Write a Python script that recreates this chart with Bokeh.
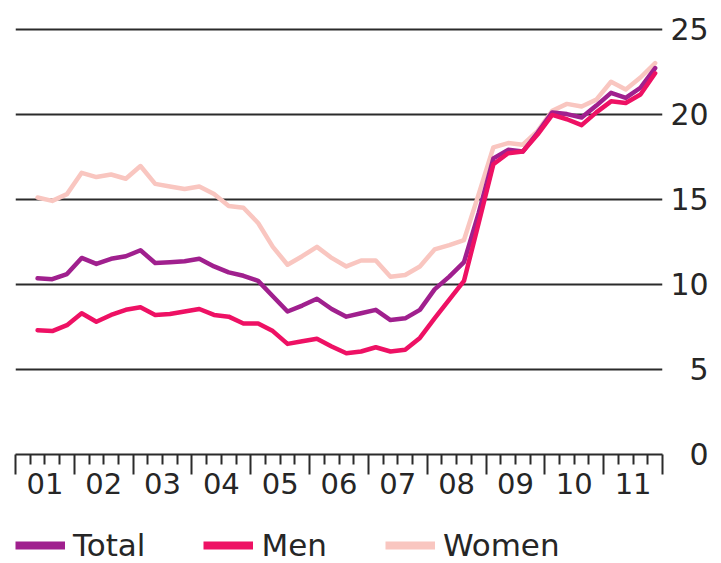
from bokeh.plotting import figure
from bokeh.layouts import column
from bokeh.models import (ColumnDataSource, FixedTicker, LinearAxis, Legend,
                          LegendItem, Range1d, Grid)
from bokeh.embed import file_html
from bokeh.resources import INLINE

# ---- data -------------------------------------------------------------
years = [2001, 2002, 2003, 2004, 2005, 2006, 2007, 2008, 2009, 2010, 2011]
year_labels = ["01", "02", "03", "04", "05", "06", "07", "08", "09", "10", "11"]
y_ticks = [0, 5, 10, 15, 20, 25]

# quarterly observations, 2001 Q2 .. 2011 Q4
quarters = [(y, q) for y in years for q in (1, 2, 3, 4)][1:]

total = [10.35, 10.3, 10.6,
         11.55, 11.2, 11.5, 11.65,
         12.0, 11.25, 11.3, 11.35,
         11.5, 11.05, 10.7, 10.5,
         10.2, 9.3, 8.4, 8.75,
         9.15, 8.55, 8.1, 8.3,
         8.5, 7.9, 8.0, 8.5,
         9.7, 10.45, 11.3, 14.2,
         17.4, 17.9, 17.8, 18.9,
         20.1, 20.0, 19.8, 20.5,
         21.25, 20.95, 21.55, 22.7]
men = [7.3, 7.25, 7.6,
       8.3, 7.8, 8.2, 8.5,
       8.65, 8.2, 8.25, 8.4,
       8.55, 8.2, 8.1, 7.7,
       7.7, 7.25, 6.5, 6.65,
       6.8, 6.35, 5.95, 6.05,
       6.3, 6.05, 6.15, 6.85,
       8.0, 9.1, 10.2, 13.6,
       17.05, 17.7, 17.8, 18.8,
       19.95, 19.7, 19.35, 20.1,
       20.75, 20.65, 21.15, 22.4]
women = [15.1, 14.9, 15.3,
         16.55, 16.3, 16.45, 16.2,
         16.95, 15.9, 15.75, 15.6,
         15.75, 15.3, 14.6, 14.5,
         13.6, 12.2, 11.15, 11.65,
         12.2, 11.55, 11.05, 11.4,
         11.4, 10.45, 10.55, 11.05,
         12.05, 12.3, 12.6, 15.3,
         18.05, 18.3, 18.2, 19.0,
         20.2, 20.6, 20.45, 20.85,
         21.9, 21.45, 22.15, 23.0]

series_names = ["Total", "Men", "Women"]
colors = {"Total": "#A0208E", "Men": "#EE1164", "Women": "#F9C6C0"}

# ---- derived positions (through the data scale) -----------------------
xq = [y + (q - 0.5) / 4 for (y, q) in quarters]
data = {"Total": total, "Men": men, "Women": women}
source = ColumnDataSource(dict(x=xq, **data))

FONT = "DejaVu Sans"
TXT = "#262626"

p = figure(width=717, height=518,
           min_border_left=15, min_border_right=55,
           min_border_top=20, min_border_bottom=64,
           x_range=Range1d(years[0], years[-1] + 1),
           y_range=Range1d(0, 25.5),
           x_axis_location=None, y_axis_location=None,
           output_backend="svg", toolbar_location=None)
p.grid.visible = False
p.outline_line_color = None

p.add_layout(Grid(dimension=1, ticker=FixedTicker(ticks=y_ticks[1:]),
                  grid_line_color="#2b2b2b", grid_line_width=2))

# lines
for name in ["Women", "Total", "Men"]:
    p.line("x", name, source=source, line_color=colors[name],
           line_width=4.5, line_join="round", line_cap="round")

# x axis with year boundary ticks and quarter minor ticks
boundaries = years + [years[-1] + 1]
minor = [y + k / 4 for y in years for k in (1, 2, 3)]
ax_ticks = LinearAxis(ticker=FixedTicker(ticks=boundaries, minor_ticks=minor),
                      major_label_overrides={b: "" for b in boundaries},
                      axis_line_color="#2b2b2b", axis_line_width=2,
                      major_tick_line_color="#2b2b2b", major_tick_line_width=2,
                      minor_tick_line_color="#2b2b2b", minor_tick_line_width=2,
                      major_tick_out=20, major_tick_in=0,
                      minor_tick_out=10, minor_tick_in=0,
                      major_label_text_font_size="1px", major_label_standoff=0)
p.add_layout(ax_ticks, "below")

mids = [y + 0.5 for y in years]
ax_labels = LinearAxis(ticker=FixedTicker(ticks=mids, minor_ticks=[]),
                       major_label_overrides={m: lab for m, lab in zip(mids, year_labels)},
                       axis_line_color=None, major_tick_line_color=None,
                       minor_tick_line_color=None, major_tick_out=0, major_tick_in=0,
                       minor_tick_out=0, minor_tick_in=0,
                       major_label_standoff=-2,
                       major_label_text_font=FONT, major_label_text_font_size="29px",
                       major_label_text_color=TXT)
p.add_layout(ax_labels, "below")

# right y axis (single digits padded with a figure space to right-align)
ax_y = LinearAxis(ticker=FixedTicker(ticks=y_ticks, minor_ticks=[]),
                  major_label_overrides={t: ("\u2007" + str(t) if t < 10 else str(t))
                                         for t in y_ticks},
                  axis_line_color=None, major_tick_line_color=None,
                  minor_tick_line_color=None, major_tick_out=0, major_tick_in=0,
                  major_label_standoff=8,
                  major_label_text_font=FONT, major_label_text_font_size="30px",
                  major_label_text_color=TXT)
p.add_layout(ax_y, "right")

# ---- legend strip below the chart -------------------------------------
leg = figure(width=717, height=45, min_border=0,
             x_range=Range1d(0, 1), y_range=Range1d(0, 1),
             x_axis_location=None, y_axis_location=None,
             output_backend="svg", toolbar_location=None)
leg.grid.visible = False
leg.outline_line_color = None

items = []
for name in series_names:
    # swatch renderer holds a single observation (draws nothing by itself)
    sw = leg.line(x=xq[:1], y=data[name][:1], line_color=colors[name],
                  line_width=8, line_cap="butt")
    items.append(LegendItem(label=name, renderers=[sw]))
legend = Legend(items=items, orientation="horizontal", location=(0, 0),
                glyph_width=50, glyph_height=36, label_standoff=8, spacing=58,
                padding=0, margin=0, border_line_color=None,
                background_fill_alpha=0,
                label_text_font=FONT, label_text_font_size="31px",
                label_text_color=TXT)
leg.add_layout(legend)

page = column(p, leg, spacing=0)
open("out.html", "w").write(file_html(page, INLINE))
